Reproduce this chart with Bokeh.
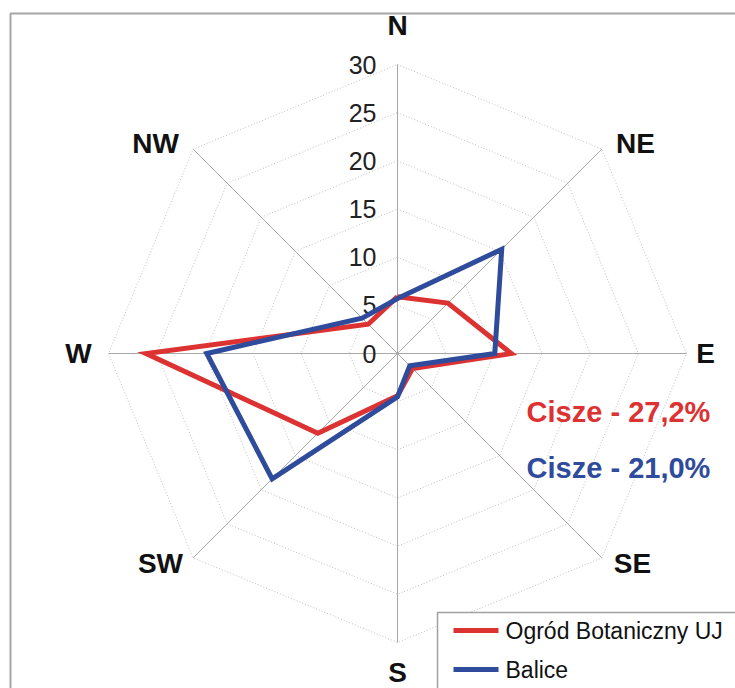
import numpy as np
from bokeh.plotting import figure
from bokeh.models import Range1d
from bokeh.core.properties import value
from bokeh.embed import file_html
from bokeh.resources import INLINE

# ---- data ----
directions = ["N", "NE", "E", "SE", "S", "SW", "W", "NW"]
ogrod = [5.9, 7.4, 11.8, 2.2, 4.4, 11.7, 26.1, 4.3]
balice = [5.7, 15.3, 10.1, 1.8, 4.5, 18.4, 19.8, 5.2]
series_names = ["Ogród Botaniczny UJ", "Balice"]
calm_labels = ["Cisze - 27,2%", "Cisze - 21,0%"]
ticks = [0, 5, 10, 15, 20, 25, 30]

# ---- layout ----
W, H = 735, 688
CX, CY = 397, 353          # centre of the rose in figure pixels
RMAX = 30
K = 289 / RMAX             # pixels per unit

def px(x, y):
    return (x - CX) / K, (CY - y) / K

RED = "#dc3232"
BLUE = "#2f4b9b"
GRIDC = "#c0c0c0"
FONT = "Liberation Sans"

p = figure(width=W, height=H, output_backend="svg", toolbar_location=None,
           x_range=Range1d(-CX / K, (W - CX) / K), y_range=Range1d(-(H - CY) / K, CY / K),
           x_axis_location=None, y_axis_location=None, min_border=0)
p.outline_line_color = None
p.xgrid.visible = False
p.ygrid.visible = False
p.background_fill_color = "white"

ang = np.deg2rad(90 - 45 * np.arange(len(directions)))
ca, sa = np.cos(ang), np.sin(ang)

# outer frame
l, t = px(10, 13)
r, b = px(W + 20, H + 20)
p.quad(left=l, right=r, top=t, bottom=b, fill_color=None, line_color="#a6a6a6", line_width=2)

# octagonal dotted grid
for tv in ticks[1:]:
    xs = list(tv * ca) + [tv * ca[0]]
    ys = list(tv * sa) + [tv * sa[0]]
    p.line(xs, ys, line_color=GRIDC, line_width=1, line_dash="1 2")

# spokes
for c, s in zip(ca, sa):
    p.line([0, RMAX * c], [0, RMAX * s], line_color="#a8a8a8", line_width=1)

# tick labels
p.text(x=[0] * len(ticks), y=ticks, text=[str(t_) for t_ in ticks], x_offset=-21,
       text_align="right", text_baseline="middle", text_font=value(FONT),
       text_font_size="25px", text_color="#222222")

# series
for vals, col in ((ogrod, RED), (balice, BLUE)):
    v = np.array(vals)
    xs = list(v * ca) + [v[0] * ca[0]]
    ys = list(v * sa) + [v[0] * sa[0]]
    p.line(xs, ys, line_color=col, line_width=5, line_join="miter")

# direction labels (pixel offsets from centre)
lab_off = {"N": (0, -328), "NE": (238, -210), "E": (308, 0), "SE": (235, 210),
           "S": (0, 319), "SW": (-237, 210), "W": (-319, 0), "NW": (-242, -210)}
lx = [px(CX + lab_off[d][0], CY + lab_off[d][1])[0] for d in directions]
ly = [px(CX + lab_off[d][0], CY + lab_off[d][1])[1] for d in directions]
p.text(x=lx, y=ly, text=directions, text_align="center", text_baseline="middle",
       text_font=value(FONT), text_font_style="bold", text_font_size="28px", text_color="#111111")

# calm labels
for lab, col, yy in zip(calm_labels, (RED, BLUE), (411, 467)):
    x0, y0 = px(618, yy)
    p.text(x=[x0], y=[y0], text=[lab], text_align="center", text_baseline="middle",
           text_font=value(FONT), text_font_style="bold", text_font_size="29px", text_color=col)

# legend box
l, t = px(437, 612)
r, b = px(W + 20, H + 20)
p.quad(left=l, right=r, top=t, bottom=b, fill_color="white", line_color="#a0a0a0", line_width=1.5)
for name, col, yy in zip(series_names, (RED, BLUE), (630, 669)):
    x0, y0 = px(453, yy)
    x1, _ = px(498, yy)
    p.line([x0, x1], [y0, y0], line_color=col, line_width=5)
    tx, _ = px(505, yy)
    p.text(x=[tx], y=[y0], text=[name], text_align="left", text_baseline="middle",
           text_font=value(FONT), text_font_size="23px", text_color="#111111")

open("out.html", "w").write(file_html(p, INLINE))
